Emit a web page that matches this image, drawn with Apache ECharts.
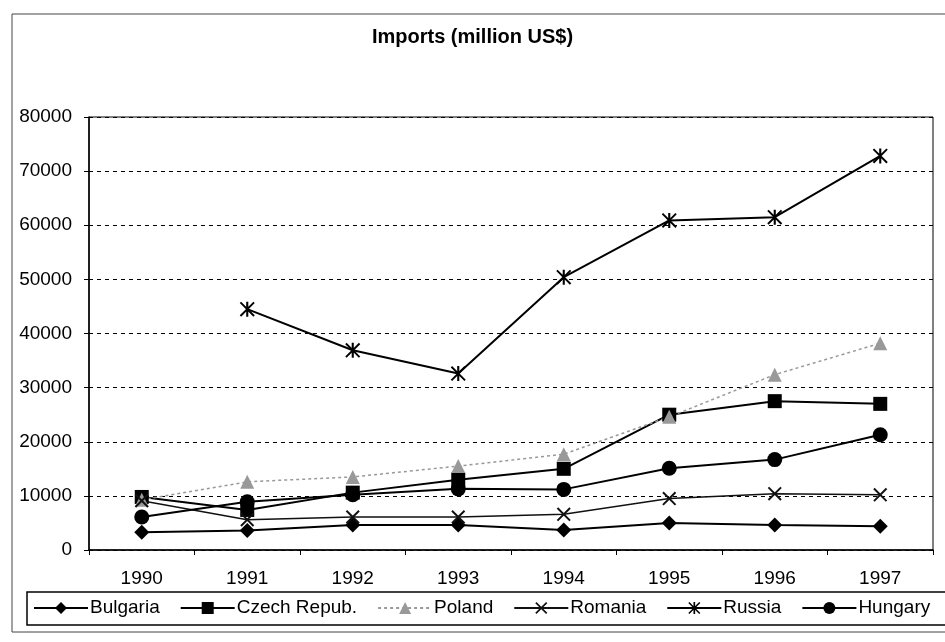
<!DOCTYPE html>
<html>
<head>
<meta charset="utf-8">
<script src="https://cdn.jsdelivr.net/npm/echarts@6/dist/echarts.min.js"></script>
<style>
  html, body { margin: 0; padding: 0; background: #fff; }
  #main { width: 945px; height: 642px; }
</style>
</head>
<body>
<div id="main"></div>
<script>
const years = ['1990', '1991', '1992', '1993', '1994', '1995', '1996', '1997'];
const bulgaria = [3300, 3600, 4600, 4600, 3700, 5000, 4600, 4400];
const czech = [9800, 7400, 10600, 13000, 15000, 25000, 27500, 27000];
const poland = [9300, 12600, 13500, 15500, 17700, 24600, 32400, 38200];
const romania = [9100, 5600, 6100, 6100, 6600, 9500, 10400, 10200];
const russia = [null, 44500, 36900, 32600, 50400, 60900, 61500, 72800];
const hungary = [6100, 8900, 10200, 11300, 11200, 15100, 16700, 21300];
const yTicks = [0, 10000, 20000, 30000, 40000, 50000, 60000, 70000, 80000];

// cross and asterisk markers built from thin bars
const xPath = 'path://M0 1L1 0L10 9L9 10ZM9 0L10 1L1 10L0 9Z';
const starPath = 'path://M4.3 0L5.7 0L5.7 10L4.3 10ZM0 0.9L0.9 0L10 9.1L9.1 10ZM9.1 0L10 0.9L0.9 10L0 9.1Z';

const font = 'Arial, "Liberation Sans", sans-serif';

const mk = (name, data, symbol, size, color, lineType, width) => ({
  name: name,
  type: 'line',
  data: data,
  symbol: symbol,
  symbolSize: size,
  showAllSymbol: true,
  connectNulls: false,
  lineStyle: { color: color, width: width, type: lineType },
  itemStyle: { color: color },
  emphasis: { disabled: true }
});

const chart = echarts.init(document.getElementById('main'));
chart.setOption({
  animation: false,
  backgroundColor: '#fff',
  title: {
    text: 'Imports (million US$)',
    left: 'center',
    top: 22,
    textStyle: { fontFamily: font, fontSize: 20, fontWeight: 'bold', color: '#000' }
  },
  graphic: [
    {
      type: 'rect',
      shape: { x: 12, y: 14, width: 950, height: 618 },
      style: { fill: null, stroke: '#444', lineWidth: 1 },
      silent: true
    },
    {
      type: 'rect',
      shape: { x: 27, y: 592, width: 930, height: 33 },
      style: { fill: null, stroke: '#000', lineWidth: 1.5 },
      silent: true
    }
  ],
  grid: {
    left: 89, right: 12, top: 117, bottom: 92,
    show: true, borderColor: '#000', borderWidth: 1
  },
  legend: {
    top: 598,
    left: 27,
    itemWidth: 54,
    itemHeight: 15,
    itemGap: 20,
    padding: [0, 6, 0, 6],
    textStyle: { fontFamily: font, fontSize: 19, lineHeight: 20, color: '#000', padding: [0, 0, 0, -3] },
    data: ['Bulgaria', 'Czech Repub.', 'Poland', 'Romania', 'Russia', 'Hungary']
  },
  xAxis: {
    type: 'category',
    data: years,
    boundaryGap: true,
    axisLine: { lineStyle: { color: '#000', width: 1.5 } },
    axisTick: { show: true, length: 5, lineStyle: { color: '#000' } },
    axisLabel: { fontFamily: font, fontSize: 19, color: '#000', margin: 19 },
    splitLine: { show: false }
  },
  yAxis: {
    type: 'value',
    min: yTicks[0],
    max: yTicks[yTicks.length - 1],
    interval: 10000,
    axisLine: { show: true, lineStyle: { color: '#000', width: 1.5 } },
    axisTick: { show: true, length: 5, lineStyle: { color: '#000' } },
    axisLabel: { fontFamily: font, fontSize: 19, color: '#000', margin: 17, formatter: v => String(v) },
    splitLine: { show: true, lineStyle: { color: '#000', type: [4, 4], width: 1 } }
  },
  series: [
    mk('Bulgaria', bulgaria, 'diamond', 15, '#000', 'solid', 2),
    mk('Czech Repub.', czech, 'rect', 14, '#000', 'solid', 2),
    mk('Poland', poland, 'triangle', 14, '#999', [3, 3], 1.5),
    mk('Romania', romania, xPath, 14, '#111', 'solid', 1.5),
    mk('Russia', russia, starPath, 15, '#000', 'solid', 2),
    mk('Hungary', hungary, 'circle', 15, '#000', 'solid', 2)
  ]
});
</script>
</body>
</html>
